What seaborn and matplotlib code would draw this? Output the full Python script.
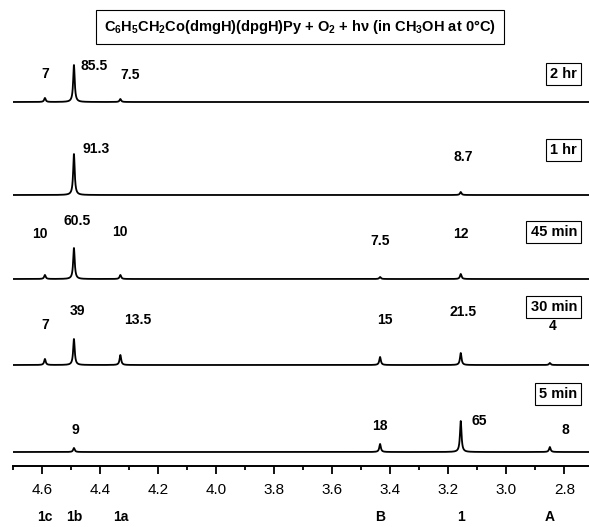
import numpy as np
import pandas as pd
import matplotlib
matplotlib.use("Agg")
import matplotlib.pyplot as plt
import seaborn as sns
from matplotlib.ticker import MultipleLocator

# ======================
# Data
# ======================
PEAK_NAMES = ["1c", "1b", "1a", "B", "1", "A"]
PEAK_PPM = [4.59, 4.49, 4.33, 3.435, 3.157, 2.85]

TIMES = ["2 hr", "1 hr", "45 min", "30 min", "5 min"]

# peak heights (arbitrary units, ~pixels in the reference)
HEIGHT_2HR = [4, 37, 3, 0, 0, 0]
HEIGHT_1HR = [0, 41, 0, 0, 3, 0]
HEIGHT_45MIN = [4, 31, 4, 2, 5, 0]
HEIGHT_30MIN = [6, 26, 10, 8, 12, 2]
HEIGHT_5MIN = [0, 4, 0, 8, 31, 5]

# product percentages printed over the peaks
LABEL_2HR = ["7", "85.5", "7.5", "", "", ""]
LABEL_1HR = ["", "91.3", "", "", "8.7", ""]
LABEL_45MIN = ["10", "60.5", "10", "7.5", "12", ""]
LABEL_30MIN = ["7", "39", "13.5", "15", "21.5", "4"]
LABEL_5MIN = ["", "9", "", "18", "65", "8"]

HEIGHTS = [HEIGHT_2HR, HEIGHT_1HR, HEIGHT_45MIN, HEIGHT_30MIN, HEIGHT_5MIN]
LABELS = [LABEL_2HR, LABEL_1HR, LABEL_45MIN, LABEL_30MIN, LABEL_5MIN]

TITLE = r"C$_6$H$_5$CH$_2$Co(dmgH)(dpgH)Py + O$_2$ + hν (in CH$_3$OH at 0°C)"

# ======================
# Layout (pixels from top of a 589x527 canvas)
# ======================
W, H = 589, 527
AXIS_PX = 466
BASELINE_PX = [102, 195, 279, 365, 452]
BOX_PX = [74, 150, 232, 307, 394]
# label height above baseline and horizontal shift (px) per peak
LABEL_UP = [
    [28, 36, 27, 0, 0, 0],
    [0, 46, 0, 0, 38, 0],
    [45, 58, 47, 38, 45, 0],
    [40, 54, 45, 45, 53, 39],
    [0, 22, 0, 26, 31, 22],
]
LABEL_DX = [
    [0, 20, 10, 0, 0, 0],
    [0, 22, 0, 0, 3, 0],
    [-5, 3, 0, 0, 0, 0],
    [0, 4, 17, 5, 2, 3],
    [0, 1, 0, 0, 18, 16],
]
PX_PER_PPM = 290.0
XMIN, XMAX = 4.70, 2.715

sns.set_style("white")
plt.rcParams["font.family"] = ["Liberation Sans", "DejaVu Sans"]
plt.rcParams["mathtext.default"] = "regular"
plt.rcParams["text.color"] = "black"
plt.rcParams["xtick.color"] = "black"
plt.rcParams["axes.edgecolor"] = "black"


def lorentz_trace(x, heights, gamma=0.0032):
    y = np.zeros_like(x)
    for x0, h in zip(PEAK_PPM, heights):
        y += h * gamma**2 / ((x - x0) ** 2 + gamma**2)
    return y


def main():
    fig = plt.figure(figsize=(W / 100, H / 100), dpi=100)
    ax = fig.add_axes([13 / W, (H - AXIS_PX) / H, (W - 13) / W, AXIS_PX / H])
    ax.set_xlim(XMIN, XMAX)
    ax.set_ylim(0, AXIS_PX)

    x = np.linspace(XMIN, XMAX, 5000)
    rows = []
    for t, heights, base in zip(TIMES, HEIGHTS, BASELINE_PX):
        y = lorentz_trace(x, heights) + (AXIS_PX - base)
        rows.append(pd.DataFrame({"ppm": x, "signal": y, "time": t}))
    df = pd.concat(rows, ignore_index=True)

    sns.lineplot(data=df, x="ppm", y="signal", units="time", estimator=None,
                 sort=False, color="black", lw=1.3, ax=ax, legend=False)

    # peak labels
    for labels, ups, dxs, base in zip(LABELS, LABEL_UP, LABEL_DX, BASELINE_PX):
        for ppm, lab, up, dx in zip(PEAK_PPM, labels, ups, dxs):
            if not lab:
                continue
            ax.text(ppm - dx / PX_PER_PPM, AXIS_PX - base + up, lab,
                    ha="center", va="center", fontsize=10, fontweight="bold")

    # time boxes
    for t, by in zip(TIMES, BOX_PX):
        fig.text(577 / W, 1 - by / H, t, ha="right", va="center",
                 fontsize=10.5, fontweight="bold",
                 bbox=dict(boxstyle="square,pad=0.3", fc="white", ec="black", lw=0.8))

    # title box
    fig.text(300 / W, 1 - 27 / H, TITLE, ha="center", va="center",
             fontsize=10.5, fontweight="bold",
             bbox=dict(boxstyle="square,pad=0.55", fc="white", ec="black", lw=0.8))

    # axis styling
    for side in ["top", "left", "right"]:
        ax.spines[side].set_visible(False)
    ax.spines["bottom"].set_linewidth(1.4)
    ax.xaxis.set_major_locator(MultipleLocator(0.2))
    ax.xaxis.set_minor_locator(MultipleLocator(0.1))
    ax.xaxis.set_major_formatter(lambda v, p: f"{v:.1f}")
    ax.tick_params(axis="x", which="both", bottom=True, direction="out", width=1.3,
                   color="black", labelcolor="black")
    ax.tick_params(axis="x", which="major", length=6, labelsize=11, pad=6)
    ax.tick_params(axis="x", which="minor", length=3)
    ax.set_yticks([])
    ax.set_xlabel("")
    ax.set_ylabel("")

    # compound letters under the axis
    for name, ppm in zip(PEAK_NAMES, PEAK_PPM):
        ax.text(ppm, -(517 - AXIS_PX), name, ha="center", va="center",
                fontsize=10, fontweight="bold", clip_on=False)

    fig.savefig("out.png", dpi=100)
    plt.close(fig)


if __name__ == "__main__":
    main()
